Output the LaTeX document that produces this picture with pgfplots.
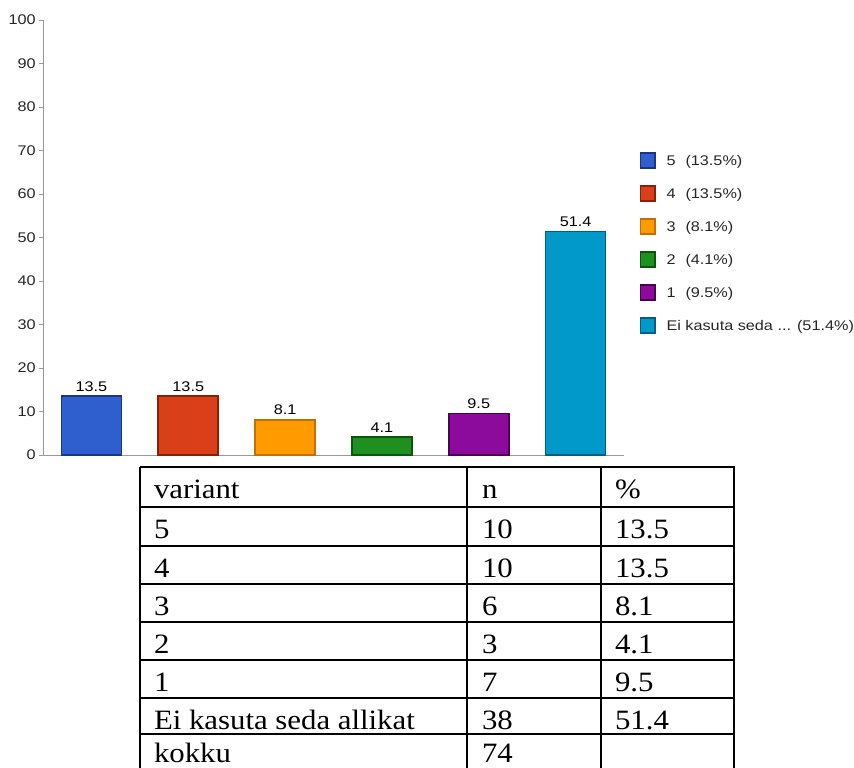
\documentclass[border=0pt]{standalone}
\usepackage{fontspec}
\setmainfont{Liberation Sans}
\newfontfamily\chartfont[FakeStretch=1.16]{Liberation Sans}
\newfontfamily\tablefont[FakeStretch=1.1]{Liberation Serif}
\usepackage{pgfplots}
\pgfplotsset{compat=1.18}
\newcommand{\cf}{\chartfont\fontsize{7}{8.5}\selectfont}
\newcommand{\tf}{\tablefont\fontsize{14}{17}\selectfont}

\definecolor{cfive}{HTML}{2F5FCF}  \definecolor{cfived}{HTML}{1A3585}
\definecolor{cfour}{HTML}{D9401A}  \definecolor{cfourd}{HTML}{8A2008}
\definecolor{cthree}{HTML}{FF9A00} \definecolor{cthreed}{HTML}{C27000}
\definecolor{ctwo}{HTML}{1F8F1F}   \definecolor{ctwod}{HTML}{0A560A}
\definecolor{cone}{HTML}{8C0A9C}   \definecolor{coned}{HTML}{4A0052}
\definecolor{cei}{HTML}{0099C9}    \definecolor{ceid}{HTML}{005F80}

\pgfplotsset{
  mybar/.style={ybar, bar width=30pt, line width=0.8pt, point meta=y,
    nodes near coords,
    every node near coord/.append style={font=\cf, text=black, inner sep=2pt,
      /pgf/number format/.cd, fixed, precision=1}},
}

\begin{document}
\begin{tikzpicture}
\useasboundingbox (0,0) rectangle (427pt,-383.5pt);
\begin{axis}[
  at={(21.5pt,-227.5pt)}, anchor=south west,
  scale only axis, width=290.5pt, height=217.5pt,
  xmin=-0.5, xmax=5.5, ymin=0, ymax=100,
  axis lines*=left,
  axis line style={draw=black!40, line width=0.5pt},
  xtick=\empty,
  ytick={0,10,...,100},
  tick align=outside, major tick length=2pt,
  tick style={draw=black!40, line width=0.5pt},
  yticklabel style={font=\cf, text=black!85, inner sep=1.5pt},
  /pgf/number format/assume math mode=true,
  clip=false,
  legend cell align=left,
  legend image code/.code={\draw[#1] (0pt,-3.8pt) rectangle (7.2pt,3.8pt);},
  legend style={draw=none, fill=none, at={(1.026,0.715)}, anchor=north west,
    inner sep=0pt, font=\cf, text=black!85, row sep=0.5pt,
    nodes={inner sep=0pt, text height=10.5pt, text depth=5.5pt},
    /tikz/every odd column/.append style={column sep=5.5pt}},
]
\addplot[mybar, fill=cfive, draw=cfived] coordinates {(0,13.5)};
\addlegendentry{\makebox[9.5pt][l]{5}(13.5\%)}
\addplot[mybar, fill=cfour, draw=cfourd] coordinates {(1,13.5)};
\addlegendentry{\makebox[9.5pt][l]{4}(13.5\%)}
\addplot[mybar, fill=cthree, draw=cthreed] coordinates {(2,8.1)};
\addlegendentry{\makebox[9.5pt][l]{3}(8.1\%)}
\addplot[mybar, fill=ctwo, draw=ctwod] coordinates {(3,4.1)};
\addlegendentry{\makebox[9.5pt][l]{2}(4.1\%)}
\addplot[mybar, fill=cone, draw=coned] coordinates {(4,9.5)};
\addlegendentry{\makebox[9.5pt][l]{1}(9.5\%)}
\addplot[mybar, fill=cei, draw=ceid] coordinates {(5,51.4)};
\addlegendentry{Ei kasuta seda ... (51.4\%)}
\end{axis}

% table below the chart (pixel units, y downwards)
\begin{scope}[x=0.5pt, y=-0.5pt, line width=1pt]
  \foreach \r in {467,507,546,584,622,660,698,734}
    \draw (139.5,\r) -- (734.5,\r);
  \foreach \c in {140,467,601,734}
    \draw (\c,467) -- (\c,772);
  \foreach \b/\a/\n/\p in {498/variant/n/\%, 538/5/10/13.5, 577/4/10/13.5,
      615/3/6/8.1, 653/2/3/4.1, 691/1/7/9.5,
      729/Ei kasuta seda allikat/38/51.4, 762/kokku/74/{}} {
    \node[anchor=base west, inner sep=0pt, font=\tf] at (153,\b) {\a};
    \node[anchor=base west, inner sep=0pt, font=\tf] at (481,\b) {\n};
    \node[anchor=base west, inner sep=0pt, font=\tf] at (614,\b) {\p};
  }
\end{scope}
\end{tikzpicture}
\end{document}
